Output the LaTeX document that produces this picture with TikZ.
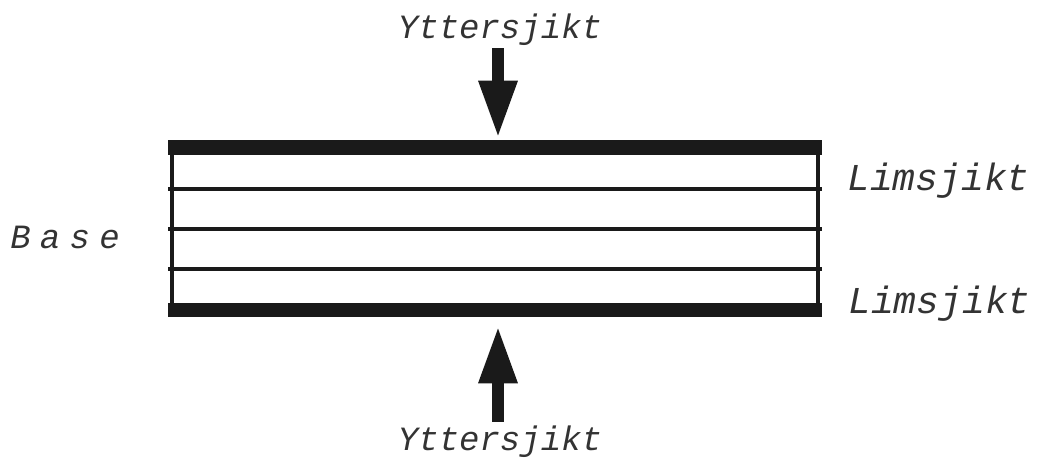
\documentclass[tikz,border=0pt]{standalone}
\usepackage{fontspec}
\newfontfamily\cour{Liberation Mono}
\usetikzlibrary{arrows.meta}
\definecolor{ink}{HTML}{1A1A1A}
\definecolor{txt}{HTML}{333333}
\tikzset{
  lbl/.style={text=txt, inner sep=0pt, font=\cour\itshape\fontsize{25.5}{28}\selectfont},
  lbllim/.style={text=txt, inner sep=0pt, font=\cour\itshape\fontsize{28.5}{30}\selectfont},
  bar/.style={fill=ink, draw=none},
  thin/.style={draw=ink, line width=2.3pt},
  side/.style={draw=ink, line width=2.7pt},
  bigarrow/.style={draw=ink, line width=9pt, -{Triangle[width=27pt,length=43pt]}},
}
\begin{document}
\begin{tikzpicture}[x=0.75pt,y=-0.75pt]
\useasboundingbox (0,0) rectangle (1037,459);
% plate
\draw[side] (172,148) -- (172,310);
\draw[side] (818,148) -- (818,310);
\draw[thin] (168,189) -- (822,189);
\draw[thin] (168,229) -- (822,229);
\draw[thin] (168,269) -- (822,269);
\fill[bar] (168,140) rectangle (822,155);
\fill[bar] (168,303) rectangle (822,317);
% labels
\node[lbl] (ytop) at (500,30) {Yttersjikt};
\node[lbl] (ybot) at (500,442) {Yttersjikt};
\node[lbllim, anchor=east] (lim1) at (1030,181) {Limsjikt};
\node[lbllim, anchor=east] (lim2) at (1031,304) {Limsjikt};
\node[lbl, anchor=west] (base) at (10,237) {B\hspace{7pt}a\hspace{7pt}s\hspace{7pt}e};
% arrows
\coordinate (ttip) at (498,138);
\coordinate (btip) at (498,326);
\draw[bigarrow] (ytop.south -| ttip) ++(0,2) -- (ttip);
\draw[bigarrow] (ybot.north -| btip) ++(0,-4) -- (btip);
\end{tikzpicture}
\end{document}
